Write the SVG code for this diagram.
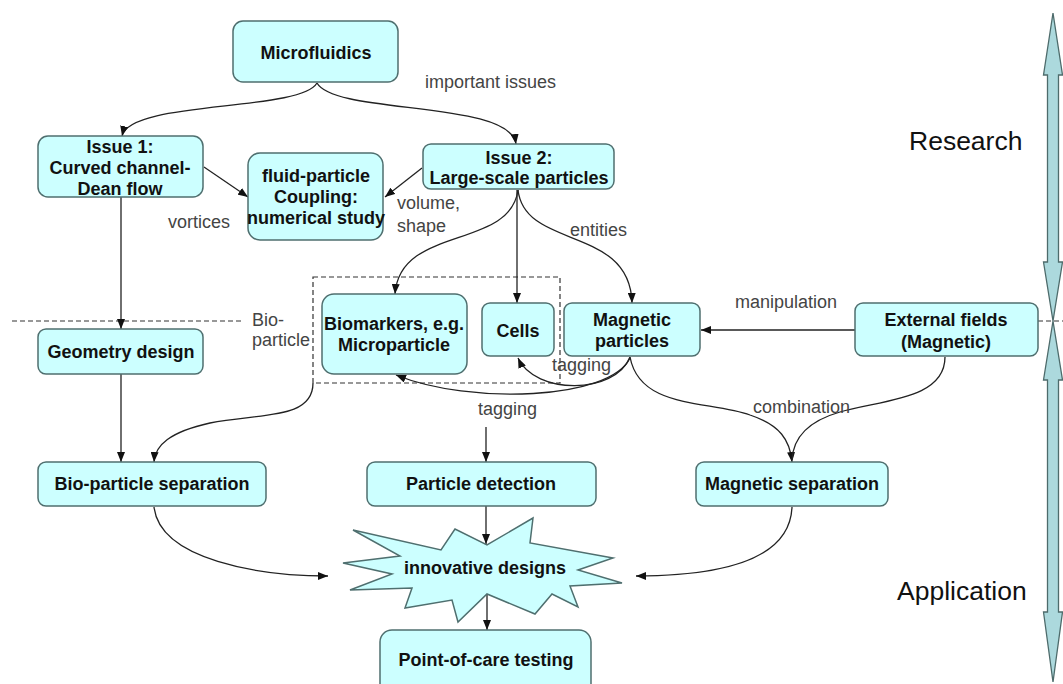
<svg xmlns="http://www.w3.org/2000/svg" width="1063" height="684" viewBox="0 0 1063 684">
<style>
.box{fill:#ccffff;stroke:#4f6f6f;stroke-width:1.5}
.t{font-family:"Liberation Sans",Arial,sans-serif;font-size:18px;font-weight:bold;fill:#111;text-anchor:middle}
.l{font-family:"Liberation Sans",Arial,sans-serif;font-size:18px;fill:#444}
.big{font-family:"Liberation Sans",Arial,sans-serif;font-size:26.5px;fill:#111}
.c{fill:none;stroke:#222;stroke-width:1.3}
.a{marker-end:url(#ah)}
.dash{fill:none;stroke:#333;stroke-width:1.2;stroke-dasharray:5,3}
.dbl{fill:#acd9dd;stroke:#4d6b6b;stroke-width:1.3}
</style>
<defs>
<marker id="ah" markerWidth="10" markerHeight="8" refX="10" refY="4" orient="auto" markerUnits="userSpaceOnUse">
<path d="M0,0 L10,4 L0,8 z" fill="#111"/>
</marker>
</defs>
<rect width="1063" height="684" fill="#ffffff"/>

<g id="guides">
<line class="dash" x1="12" y1="321" x2="243" y2="321"/>
<line class="dash" x1="1038" y1="321" x2="1063" y2="321"/>
<rect class="dash" x="313" y="277" width="247" height="106"/>
</g>

<g id="scale-arrows">
<path class="dbl" d="M1053,13 L1062.5,75 L1058.5,75 L1058.5,262 L1062.5,262 L1053,321 L1043.5,262 L1047.5,262 L1047.5,75 L1043.5,75 Z"/>
<path class="dbl" d="M1053,321 L1062.5,380 L1058.5,380 L1058.5,612 L1062.5,612 L1053,682 L1043.5,612 L1047.5,612 L1047.5,380 L1043.5,380 Z"/>
<text class="big" x="909" y="150">Research</text>
<text class="big" x="897" y="600">Application</text>
</g>

<g id="connectors">
<path class="c a" d="M317,83 C300,112 130,100 122,136"/>
<path class="c a" d="M317,83 C335,115 510,100 516,144"/>
<line class="c a" x1="204" y1="167" x2="248" y2="197"/>
<line class="c a" x1="422" y1="168" x2="385" y2="197"/>
<line class="c a" x1="121" y1="197" x2="121" y2="329"/>
<line class="c a" x1="121" y1="374" x2="121" y2="462"/>
<path class="c a" d="M518,190 C510,250 400,225 395,294"/>
<line class="c a" x1="517" y1="190" x2="517" y2="303"/>
<path class="c a" d="M518,190 C525,250 630,225 632,303"/>
<line class="c a" x1="855" y1="330" x2="701" y2="330"/>
<path class="c a" d="M630,357 C615,395 535,395 518,358"/>
<path class="c a" d="M630,358 C610,400 470,405 396,375"/>
<path class="c a" d="M313,383 C313,420 260,413 210,423 C170,432 155,445 154,462"/>
<path class="c a" d="M630,357 C640,410 710,400 750,415 C780,425 790,440 792,462"/>
<path class="c" d="M945,357 C945,400 880,400 840,412 C805,422 793,440 792,460"/>
<line class="c a" x1="486" y1="427" x2="486" y2="462"/>
<line class="c a" x1="486" y1="506" x2="486" y2="544"/>
<line class="c a" x1="487" y1="593" x2="487" y2="630"/>
<path class="c a" d="M154,507 C160,560 260,576 328,576"/>
<path class="c a" d="M792,507 C790,560 720,576 636,576"/>
</g>

<g id="labels">
<text class="l" x="425" y="88">important issues</text>
<text class="l" x="168" y="228">vortices</text>
<text class="l" x="397" y="209">volume,</text>
<text class="l" x="397" y="232">shape</text>
<text class="l" x="570" y="236">entities</text>
<text class="l" x="252" y="326">Bio-</text>
<text class="l" x="252" y="346">particle</text>
<text class="l" x="735" y="308">manipulation</text>
<text class="l" x="552" y="371">tagging</text>
<text class="l" x="478" y="415">tagging</text>
<text class="l" x="753" y="413">combination</text>
</g>

<g id="microfluidics">
<rect class="box" x="233" y="21" width="165" height="61" rx="10"/>
<text class="t" x="316" y="59">Microfluidics</text>
</g>
<g id="issue1">
<rect class="box" x="38" y="136" width="165" height="61" rx="10"/>
<text class="t" x="120" y="153">Issue 1:</text>
<text class="t" x="120" y="174">Curved channel-</text>
<text class="t" x="120" y="195">Dean flow</text>
</g>
<g id="fluid-particle">
<rect class="box" x="248" y="153" width="135" height="87" rx="12"/>
<text class="t" x="316" y="182">fluid-particle</text>
<text class="t" x="316" y="203">Coupling:</text>
<text class="t" x="316" y="224">numerical study</text>
</g>
<g id="issue2">
<rect class="box" x="423" y="144" width="191" height="45" rx="8"/>
<text class="t" x="519" y="164">Issue 2:</text>
<text class="t" x="519" y="184">Large-scale particles</text>
</g>
<g id="geometry">
<rect class="box" x="38" y="329" width="165" height="45" rx="8"/>
<text class="t" x="121" y="358">Geometry design</text>
</g>
<g id="biomarkers">
<rect class="box" x="322" y="294" width="145" height="80" rx="12"/>
<text class="t" x="394" y="330">Biomarkers, e.g.</text>
<text class="t" x="394" y="351">Microparticle</text>
</g>
<g id="cells">
<rect class="box" x="482" y="303" width="72" height="53" rx="8"/>
<text class="t" x="518" y="337">Cells</text>
</g>
<g id="magnetic-particles">
<rect class="box" x="564" y="303" width="136" height="53" rx="8"/>
<text class="t" x="632" y="326">Magnetic</text>
<text class="t" x="632" y="347">particles</text>
</g>
<g id="external-fields">
<rect class="box" x="855" y="303" width="183" height="53" rx="8"/>
<text class="t" x="946" y="326">External fields</text>
<text class="t" x="946" y="348">(Magnetic)</text>
</g>
<g id="bio-separation">
<rect class="box" x="38" y="462" width="228" height="44" rx="8"/>
<text class="t" x="152" y="490">Bio-particle separation</text>
</g>
<g id="particle-detection">
<rect class="box" x="367" y="462" width="229" height="44" rx="8"/>
<text class="t" x="481" y="490">Particle detection</text>
</g>
<g id="magnetic-separation">
<rect class="box" x="696" y="462" width="192" height="44" rx="8"/>
<text class="t" x="792" y="490">Magnetic separation</text>
</g>
<g id="innovative">
<polygon class="box" points="353,530 441,550 455,529 487,545 533,518 530,543 613,558 578,570 622,583 570,586 578,607 552,594 535,614 487,594 458,622 452,600 405,608 412,588 350,590 392,574 343,563 400,556"/>
<text class="t" x="485" y="574">innovative designs</text>
</g>
<g id="point-of-care">
<rect class="box" x="380" y="630" width="211" height="72" rx="12"/>
<text class="t" x="486" y="666">Point-of-care testing</text>
</g>
</svg>
